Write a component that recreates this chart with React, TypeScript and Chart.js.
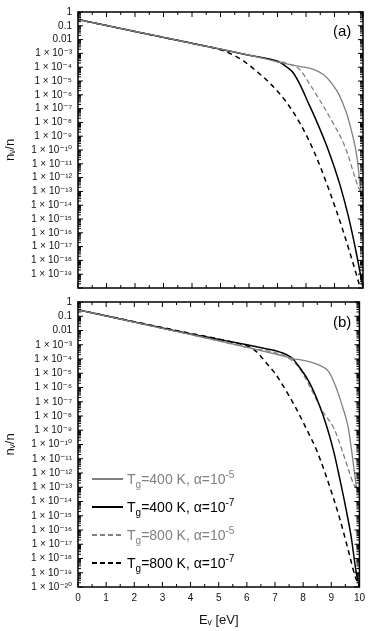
import React, { useEffect, useRef } from 'react';
import { Chart, registerables } from 'chart.js';

Chart.register(...registerables);

const FONT = "'Liberation Sans', Arial, 'DejaVu Sans', sans-serif";
const GRAY = '#808080';

// ---------- Panel (a) ----------
const eA_400_a5 = [0, 2, 4, 6, 7.09, 7.4, 7.79, 8.26, 8.61, 8.96, 9.15, 9.31, 9.45, 9.6, 9.72, 9.8, 9.86, 9.9, 9.94, 10];
const nA_400_a5 = [2.82e-1, 3.89e-2, 5.37e-3, 7.41e-4, 2.24e-4, 1.58e-4, 1.12e-4, 7.08e-5, 2.95e-5, 4.68e-6, 1.12e-6, 1.95e-7, 3.16e-8, 2.24e-9, 2.0e-10, 2.0e-11, 1.58e-12, 2.51e-13, 1.0e-13, 7.94e-14];

const eA_400_a7 = [0, 2, 4, 6, 7.1, 7.3, 7.55, 7.8, 8.02, 8.4, 8.8, 9.2, 9.5, 9.75, 9.9, 10];
const nA_400_a7 = [2.82e-1, 3.89e-2, 5.37e-3, 7.41e-4, 2.19e-4, 1.12e-4, 3.98e-5, 5.01e-6, 5.01e-7, 8.91e-9, 7.94e-11, 2.63e-13, 1.2e-15, 5.01e-18, 1.26e-19, 1.0e-20];

const eA_800_a5 = [0, 2, 4, 6, 7.3, 7.54, 7.8, 8.02, 8.5, 8.95, 9.31, 9.48, 9.66, 9.84, 9.92, 10];
const nA_800_a5 = [2.82e-1, 3.89e-2, 5.37e-3, 7.41e-4, 2.0e-4, 1.35e-4, 6.31e-5, 1.35e-5, 3.55e-7, 8.91e-9, 3.39e-10, 3.98e-11, 2.51e-12, 2.0e-13, 1.0e-13, 7.94e-14];

const eA_800_a7 = [0, 2, 4, 4.8, 5.3, 5.8, 6.3, 6.8, 7.3, 7.8, 8.3, 8.8, 9.3, 9.8, 10];
const nA_800_a7 = [2.82e-1, 3.89e-2, 5.37e-3, 2.4e-3, 1.07e-3, 2.82e-4, 4.47e-5, 5.01e-6, 3.16e-7, 7.94e-9, 6.31e-11, 1.41e-13, 1.41e-16, 5.62e-20, 2.0e-21];

// ---------- Panel (b) ----------
const eB_400_a5 = [0, 2, 4, 5, 6, 7.15, 7.6, 8.2, 8.55, 8.9, 9.13, 9.37, 9.6, 9.72, 9.84, 9.9, 10];
const nB_400_a5 = [2.82e-1, 3.8e-2, 5.25e-3, 1.91e-3, 6.61e-4, 1.91e-4, 1.12e-4, 6.61e-5, 3.89e-5, 1.35e-5, 1.62e-6, 6.76e-8, 1.58e-9, 3.98e-11, 6.31e-13, 1.0e-13, 7.08e-14];

const eB_400_a7 = [0, 2, 4, 5, 6, 6.6, 7.15, 7.61, 7.85, 8.2, 8.55, 8.85, 9.1, 9.3, 9.5, 9.7, 9.88, 10];
const nB_400_a7 = [2.82e-1, 3.98e-2, 5.62e-3, 2.4e-3, 1.0e-3, 5.62e-4, 3.16e-4, 1.12e-4, 2.95e-5, 2.69e-6, 7.94e-8, 1.58e-9, 2.51e-11, 3.98e-13, 5.01e-15, 3.98e-17, 1.26e-19, 1.0e-20];

const eB_800_a5 = [0, 2, 4, 6, 7.3, 7.6, 7.85, 8.32, 8.67, 9.1, 9.4, 9.65, 9.8, 9.92, 10];
const nB_800_a5 = [2.82e-1, 3.8e-2, 5.25e-3, 6.61e-4, 1.78e-4, 7.94e-5, 2.51e-5, 5.62e-7, 2.51e-8, 1.26e-9, 3.16e-11, 1.0e-12, 1.58e-13, 7.94e-14, 7.08e-14];

const eB_800_a7 = [0, 2, 4, 5, 5.7, 6.1, 6.4, 6.7, 7.0, 7.26, 7.73, 8.2, 8.5, 9.0, 9.3, 9.6, 9.84, 10];
const nB_800_a7 = [2.82e-1, 4.17e-2, 6.31e-3, 2.51e-3, 1.2e-3, 7.08e-4, 2.51e-4, 5.01e-5, 1.0e-5, 1.62e-6, 3.98e-8, 5.75e-10, 3.16e-11, 5.01e-14, 6.31e-16, 3.98e-18, 6.31e-20, 1.0e-20];

// ---------- Ticks ----------
const xTickValues = [0, 1, 2, 3, 4, 5, 6, 7, 8, 9, 10];
const yTicksTop = [1, 1e-1, 1e-2, 1e-3, 1e-4, 1e-5, 1e-6, 1e-7, 1e-8, 1e-9, 1e-10, 1e-11, 1e-12, 1e-13, 1e-14, 1e-15, 1e-16, 1e-17, 1e-18, 1e-19];
const yTicksBottom = [1, 1e-1, 1e-2, 1e-3, 1e-4, 1e-5, 1e-6, 1e-7, 1e-8, 1e-9, 1e-10, 1e-11, 1e-12, 1e-13, 1e-14, 1e-15, 1e-16, 1e-17, 1e-18, 1e-19, 1e-20];

const legendTemps = ['400', '400', '800', '800'];
const legendAlphaExp = ['-5', '-7', '-5', '-7'];

const SUP: Record<string, string> = { '0': '⁰', '1': '¹', '2': '²', '3': '³', '4': '⁴', '5': '⁵', '6': '⁶', '7': '⁷', '8': '⁸', '9': '⁹', '-': '⁻' };

function yLabel(v: number): string {
  const e = Math.round(Math.log10(v));
  if (e === 0) return '1';
  if (e === -1) return '0.1';
  if (e === -2) return '0.01';
  return '1 × 10' + String(e).split('').map((c) => SUP[c]).join('');
}

const pts = (xs: number[], ys: number[]) => xs.map((x, i) => ({ x, y: ys[i] }));

const framePlugin = {
  id: 'frameTicks',
  afterDraw(chart: any) {
    const { ctx, chartArea: a, scales } = chart;
    const xs = scales.x;
    const ys = scales.y;
    ctx.save();
    ctx.strokeStyle = '#000';
    ctx.lineWidth = 1;
    ctx.beginPath();
    for (let i = 0; i < xTickValues.length; i++) {
      const v = xTickValues[i];
      const px = xs.getPixelForValue(v);
      ctx.moveTo(px, a.bottom); ctx.lineTo(px, a.bottom - 5);
      ctx.moveTo(px, a.top); ctx.lineTo(px, a.top + 5);
      if (i < xTickValues.length - 1) {
        const pm = xs.getPixelForValue((v + xTickValues[i + 1]) / 2);
        ctx.moveTo(pm, a.bottom); ctx.lineTo(pm, a.bottom - 3);
        ctx.moveTo(pm, a.top); ctx.lineTo(pm, a.top + 3);
      }
    }
    for (let n = 0; n <= 20; n++) {
      const py = ys.getPixelForValue(Math.pow(10, -n));
      ctx.moveTo(a.left, py); ctx.lineTo(a.left + 5, py);
      ctx.moveTo(a.right, py); ctx.lineTo(a.right - 5, py);
      if (n < 20) {
        for (let k = 2; k <= 9; k++) {
          const pm = ys.getPixelForValue(k * Math.pow(10, -n - 1));
          ctx.moveTo(a.left, pm); ctx.lineTo(a.left + 3, pm);
          ctx.moveTo(a.right, pm); ctx.lineTo(a.right - 3, pm);
        }
      }
    }
    ctx.stroke();
    ctx.lineWidth = 1.5;
    ctx.strokeRect(a.left, a.top, a.right - a.left, a.bottom - a.top);
    ctx.restore();
  },
};

function makeDatasets(panel: 'a' | 'b') {
  const A = panel === 'a';
  return [
    { label: 'Tg=400 K, α=1e-5', data: pts(A ? eA_400_a5 : eB_400_a5, A ? nA_400_a5 : nB_400_a5), borderColor: GRAY, borderWidth: 1.3, borderDash: [] as number[] },
    { label: 'Tg=400 K, α=1e-7', data: pts(A ? eA_400_a7 : eB_400_a7, A ? nA_400_a7 : nB_400_a7), borderColor: '#000', borderWidth: 1.5, borderDash: [] as number[] },
    { label: 'Tg=800 K, α=1e-5', data: pts(A ? eA_800_a5 : eB_800_a5, A ? nA_800_a5 : nB_800_a5), borderColor: GRAY, borderWidth: 1.3, borderDash: [5, 3] },
    { label: 'Tg=800 K, α=1e-7', data: pts(A ? eA_800_a7 : eB_800_a7, A ? nA_800_a7 : nB_800_a7), borderColor: '#000', borderWidth: 1.5, borderDash: [5, 4] },
  ].map((d) => ({ ...d, pointRadius: 0, fill: false, cubicInterpolationMode: 'monotone' as const }));
}

function makeConfig(panel: 'a' | 'b'): any {
  const isTop = panel === 'a';
  return {
    type: 'line',
    data: { datasets: makeDatasets(panel) },
    options: {
      responsive: false,
      maintainAspectRatio: false,
      animation: false,
      layout: { padding: { top: 6, right: 7, bottom: isTop ? 4 : 0, left: 0 } },
      plugins: { legend: { display: false }, tooltip: { enabled: false } },
      scales: {
        x: {
          type: 'linear',
          min: 0,
          max: 10,
          display: !isTop,
          afterFit: (s: any) => { if (!isTop) s.height = 44; },
          afterBuildTicks: (s: any) => { s.ticks = xTickValues.map((v) => ({ value: v })); },
          grid: { display: false, drawTicks: false },
          border: { display: false },
          ticks: { padding: 5, autoSkip: false, maxRotation: 0, font: { size: 10, family: FONT }, color: '#111' },
          title: { display: true, text: 'Eᵥ [eV]', color: '#111', font: { size: 13, family: FONT }, padding: { top: 0, bottom: 3 } },
        },
        y: {
          type: 'logarithmic',
          min: 1e-20,
          max: 1,
          afterFit: (s: any) => { s.width = 78; },
          afterBuildTicks: (s: any) => { s.ticks = (isTop ? yTicksTop : yTicksBottom).map((v) => ({ value: v })); },
          grid: { display: false, drawTicks: false },
          border: { display: false },
          ticks: { padding: 6, autoSkip: false, font: { size: 10, family: FONT }, color: '#111', callback: (v: any) => yLabel(Number(v)) },
          title: { display: true, text: 'nᵥ/n', color: '#111', font: { size: 13, family: FONT }, padding: { top: 3, bottom: 0 } },
        },
      },
    },
    plugins: [framePlugin],
  };
}

function LegendRow({ i, top }: { i: number; top: number }) {
  const gray = legendAlphaExp[i] === '-5';
  const dashed = legendTemps[i] === '800';
  const color = gray ? GRAY : '#000';
  const sample: React.CSSProperties = dashed
    ? { width: 31, height: 1.5, backgroundImage: `repeating-linear-gradient(to right, ${color} 0 5px, transparent 5px 8px)` }
    : { width: 31, height: 1.5, background: color };
  return (
    <div style={{ position: 'absolute', left: 92, top: top - 9, height: 18, display: 'flex', alignItems: 'center', whiteSpace: 'nowrap', fontFamily: FONT, fontSize: 14, color }}>
      <div style={sample} />
      <span style={{ marginLeft: 4 }}>
        T<span style={{ fontSize: 10, position: 'relative', top: 4 }}>g</span>={legendTemps[i]} K, α=10
        <span style={{ fontSize: 10, position: 'relative', top: -6 }}>{legendAlphaExp[i]}</span>
      </span>
    </div>
  );
}

export default function App() {
  const topRef = useRef<HTMLCanvasElement>(null);
  const botRef = useRef<HTMLCanvasElement>(null);
  useEffect(() => {
    const c1 = new Chart(topRef.current as HTMLCanvasElement, makeConfig('a'));
    const c2 = new Chart(botRef.current as HTMLCanvasElement, makeConfig('b'));
    return () => { c1.destroy(); c2.destroy(); };
  }, []);
  const legendTops = [479, 507, 535, 563];
  return (
    <div style={{ position: 'absolute', left: 0, top: 0, width: 370, height: 631, background: '#fff' }}>
      <canvas ref={topRef} width={370} height={300} style={{ position: 'absolute', left: 0, top: 0, width: 370, height: 300 }} />
      <canvas ref={botRef} width={370} height={341} style={{ position: 'absolute', left: 0, top: 290, width: 370, height: 341 }} />
      <div style={{ position: 'absolute', left: 333, top: 22, fontFamily: FONT, fontSize: 15, lineHeight: '18px', color: '#000' }}>(a)</div>
      <div style={{ position: 'absolute', left: 333, top: 313, fontFamily: FONT, fontSize: 15, lineHeight: '18px', color: '#000' }}>(b)</div>
      {legendTops.map((t, i) => <LegendRow key={i} i={i} top={t} />)}
    </div>
  );
}
